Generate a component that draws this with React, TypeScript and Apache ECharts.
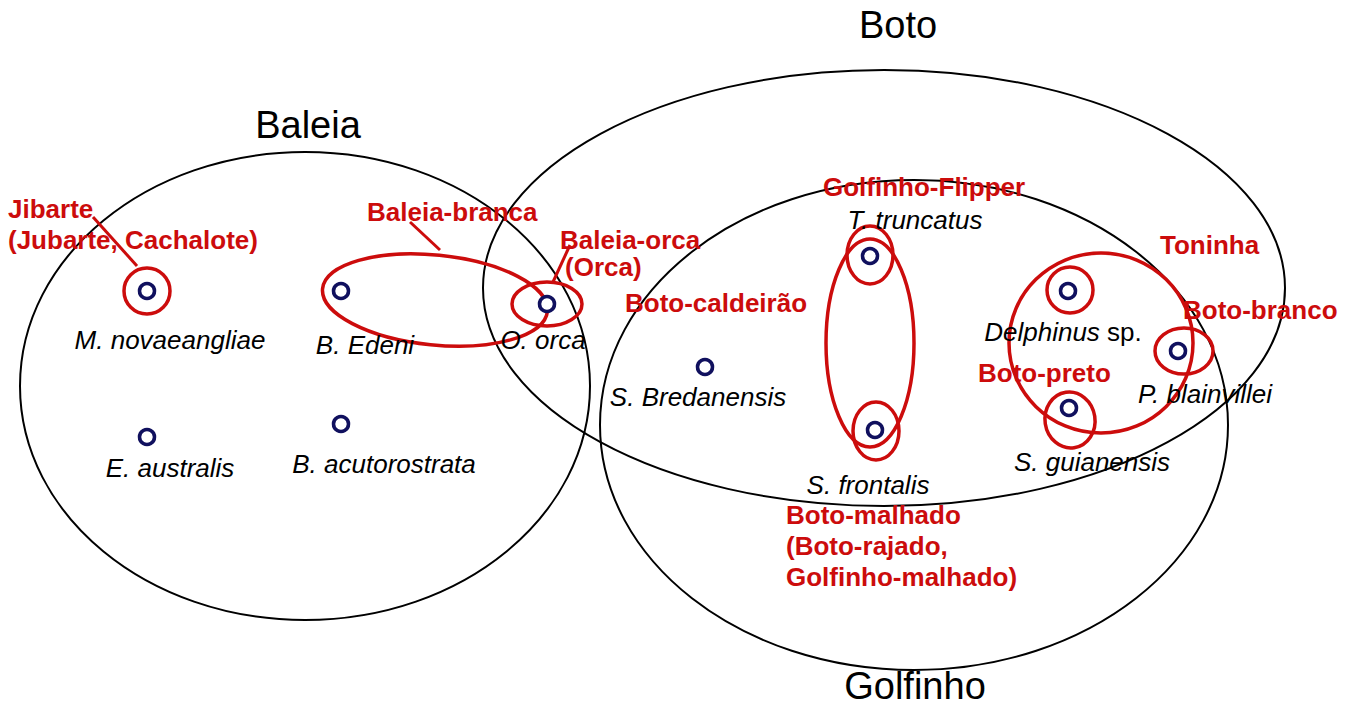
import React, { useEffect, useRef } from "react";
import * as echarts from "echarts";

// Group (set) ellipses
const groupNames = ["Baleia", "Boto", "Golfinho"];
const groupCx = [305, 884, 914];
const groupCy = [386, 288, 425];
const groupRx = [285, 401, 314];
const groupRy = [234, 218, 245];
const groupTitleX = [308, 898, 915];
const groupTitleY = [125, 25, 686];

// Species points
const speciesNames = [
  "M. novaeangliae",
  "B. Edeni",
  "O. orca",
  "E. australis",
  "B. acutorostrata",
  "S. Bredanensis",
  "T. truncatus",
  "S. frontalis",
  "Delphinus sp.",
  "P. blainvillei",
  "S. guianensis",
];
const speciesX = [147, 341, 547, 147, 341, 705, 870, 875, 1068, 1178, 1069];
const speciesY = [291, 291, 304, 437, 424, 367, 256, 430, 291, 351, 408];
const speciesLabelX = [170, 365, 543, 170, 384, 698, 915, 868, 1063, 1205, 1092];
const speciesLabelY = [340, 345, 340, 468, 464, 397, 220, 485, 332, 394, 462];

// Common-name rings (red)
const ringCx = [147, 435, 547, 870, 870, 876, 1101, 1070, 1184, 1070];
const ringCy = [291, 300, 304, 255, 343, 431, 343, 290, 351, 420];
const ringRx = [23, 113, 35, 23, 44, 23, 92, 23, 29, 25];
const ringRy = [23, 45, 22, 29, 104, 29, 90, 23, 23, 28];
const ringTilt = [0, -0.1, 0, 0, 0, 0, 0, 0, 0, 0.15];

// Common names (red labels)
const commonNames = [
  "Jibarte",
  "(Jubarte, Cachalote)",
  "Baleia-branca",
  "Baleia-orca",
  "(Orca)",
  "Boto-caldeirão",
  "Golfinho-Flipper",
  "Toninha",
  "Boto-branco",
  "Boto-preto",
  "Boto-malhado",
  "(Boto-rajado,",
  "Golfinho-malhado)",
];
const commonX = [8, 8, 367, 560, 565, 625, 823, 1160, 1183, 978, 786, 786, 786];
const commonY = [209, 240, 212, 240, 267, 303, 187, 245, 310, 373, 515, 546, 577];

// Leader lines
const leaderX1 = [93, 410, 570];
const leaderY1 = [217, 222, 245];
const leaderX2 = [137, 440, 553];
const leaderY2 = [266, 250, 282];

const FONT = "'Liberation Sans', Arial, Helvetica, sans-serif";
const RED = "#cc0c0c";
const NAVY = "#10105e";

export default function App() {
  const ref = useRef<HTMLDivElement>(null);
  useEffect(() => {
    document.body.style.margin = "0";
    const chart = echarts.init(ref.current!, null, { renderer: "svg" });

    const ellipseRender = (color: string, lw: number) => (params: any, api: any) => {
      const c = api.coord([api.value(0), api.value(1)]);
      const s = api.size([api.value(2), api.value(3)]);
      return {
        type: "ellipse",
        x: c[0],
        y: c[1],
        rotation: api.value(4) || 0,
        shape: { cx: 0, cy: 0, rx: Math.abs(s[0]), ry: Math.abs(s[1]) },
        style: { fill: "none", stroke: color, lineWidth: lw },
        silent: true,
      };
    };

    const option: any = {
      animation: false,
      backgroundColor: "#ffffff",
      grid: { left: 0, right: 0, top: 0, bottom: 0 },
      xAxis: { type: "value", min: 0, max: 1354, show: false },
      yAxis: { type: "value", min: 0, max: 706, inverse: true, show: false },
      series: [
        {
          type: "custom",
          name: "groups",
          coordinateSystem: "cartesian2d",
          clip: false,
          encode: { x: 0, y: 1 },
          renderItem: ellipseRender("#000000", 2),
          data: groupNames.map((_, i) => [groupCx[i], groupCy[i], groupRx[i], groupRy[i], 0]),
          z: 1,
        },
        {
          type: "custom",
          name: "rings",
          coordinateSystem: "cartesian2d",
          clip: false,
          encode: { x: 0, y: 1 },
          renderItem: ellipseRender(RED, 3.5),
          data: ringCx.map((_, i) => [ringCx[i], ringCy[i], ringRx[i], ringRy[i], ringTilt[i]]),
          z: 2,
        },
        {
          type: "custom",
          name: "leaders",
          coordinateSystem: "cartesian2d",
          clip: false,
          encode: { x: [0, 2], y: [1, 3] },
          renderItem: (params: any, api: any) => {
            const a = api.coord([api.value(0), api.value(1)]);
            const b = api.coord([api.value(2), api.value(3)]);
            return {
              type: "line",
              shape: { x1: a[0], y1: a[1], x2: b[0], y2: b[1] },
              style: { stroke: RED, lineWidth: 3 },
              silent: true,
            };
          },
          data: leaderX1.map((_, i) => [leaderX1[i], leaderY1[i], leaderX2[i], leaderY2[i]]),
          z: 2,
        },
        {
          type: "scatter",
          name: "species",
          symbol: "circle",
          symbolSize: 15,
          itemStyle: { color: "#ffffff", borderColor: NAVY, borderWidth: 3.5, opacity: 1 },
          data: speciesNames.map((n, i) => ({ name: n, value: [speciesX[i], speciesY[i]] })),
          z: 3,
        },
        {
          type: "scatter",
          name: "speciesLabels",
          symbolSize: 0,
          silent: true,
          itemStyle: { opacity: 1 },
          label: {
            show: true,
            position: "inside",
            align: "center",
            verticalAlign: "middle",
            fontFamily: FONT,
            fontSize: 26,
            fontStyle: "italic",
            color: "#000000",
            formatter: (p: any) =>
              p.name === "Delphinus sp." ? "{i|Delphinus} {n|sp.}" : "{i|" + p.name + "}",
            rich: {
              i: { fontFamily: FONT, fontSize: 26, fontStyle: "italic", color: "#000000" },
              n: { fontFamily: FONT, fontSize: 26, fontStyle: "normal", color: "#000000" },
            },
          },
          data: speciesNames.map((n, i) => ({ name: n, value: [speciesLabelX[i], speciesLabelY[i]] })),
          z: 4,
        },
        {
          type: "scatter",
          name: "commonNames",
          symbolSize: 0,
          silent: true,
          itemStyle: { opacity: 1 },
          label: {
            show: true,
            position: "right",
            distance: 0,
            fontFamily: FONT,
            fontSize: 26,
            fontWeight: "bold",
            color: RED,
            formatter: (p: any) => p.name,
          },
          data: commonNames.map((n, i) => ({ name: n, value: [commonX[i], commonY[i]] })),
          z: 4,
        },
        {
          type: "scatter",
          name: "groupTitles",
          symbolSize: 0,
          silent: true,
          itemStyle: { opacity: 1 },
          label: {
            show: true,
            position: "inside",
            align: "center",
            verticalAlign: "middle",
            fontFamily: FONT,
            fontSize: 38,
            color: "#000000",
            formatter: (p: any) => p.name,
          },
          data: groupNames.map((n, i) => ({ name: n, value: [groupTitleX[i], groupTitleY[i]] })),
          z: 4,
        },
      ],
    };
    chart.setOption(option);
    return () => chart.dispose();
  }, []);
  return (
    <div
      ref={ref}
      style={{ position: "absolute", left: 0, top: 0, width: 1354, height: 706 }}
    />
  );
}
